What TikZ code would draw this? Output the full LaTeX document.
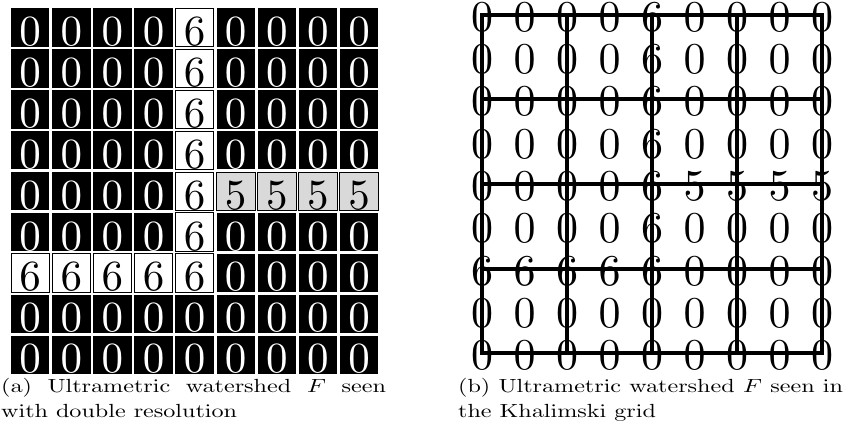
\documentclass[tikz,border=0pt]{standalone}
\usepackage[OT1]{fontenc}
\usepackage{graphicx}
\DeclareFontFamily{OT1}{cmten}{}
\DeclareFontShape{OT1}{cmten}{m}{n}{<-> cmr10}{}
\renewcommand{\rmdefault}{cmten}
\DeclareFontShape{OML}{cmm}{m}{it}{<-> cmmi10}{}

\newcommand{\subcap}[1]{\scalebox{1.27}[1]{\parbox[t]{303pt}{#1}}}

\begin{document}
\begin{tikzpicture}
  [ x=1pt, y=-1pt,
    sq0/.style={rectangle, fill=black, text=white, minimum size=38.4pt, inner sep=0pt,
      text height=36pt, text depth=0pt, font=\fontsize{43}{43}\selectfont},
    sq5/.style={sq0, fill=gray!30, draw=black, line width=0.8pt, text=black},
    sq6/.style={sq0, fill=white, draw=black, line width=0.8pt, text=black},
    num/.style={inner sep=0pt, text height=33pt, text depth=0pt, font=\fontsize{44}{44}\selectfont},
    line1/.style={-, line width=4pt, line cap=rect, black},
    caption/.style={anchor=north west, inner sep=0pt, font=\fontsize{19}{25}\selectfont}
  ]
  \useasboundingbox (0,0) rectangle (845,431);

  % left: cells, right: values on the Khalimski grid
  \foreach \row [count=\r from 0] in {{0,0,0,0,6,0,0,0,0},{0,0,0,0,6,0,0,0,0},
      {0,0,0,0,6,0,0,0,0},{0,0,0,0,6,0,0,0,0},{0,0,0,0,6,5,5,5,5},
      {0,0,0,0,6,0,0,0,0},{6,6,6,6,6,0,0,0,0},{0,0,0,0,0,0,0,0,0},
      {0,0,0,0,0,0,0,0,0}} {
    \foreach \v [count=\c from 0] in \row {
      \node[sq\v] (a\r\c) at (30.2+41.1*\c, 27.5+40.9*\r) {\v};
      \node[num] (b\r\c) at (482+42.5*\c, 14.7+42.33*\r) {\v};
    }
  }

  \foreach \n in {0,2,4,6,8} {
    \draw [line1] (b\n0.center) -- (b\n8.center);
    \draw [line1] (b0\n.center) -- (b8\n.center);
  }

  \node[caption] (capa) at (1,377.7) {\subcap{(a) Ultrametric watershed $F$ seen\linebreak with double resolution}};
  \node[caption] (capb) at (458,377.7) {\subcap{(b) Ultrametric watershed $F$ seen in\linebreak the Khalimski grid}};
\end{tikzpicture}
\end{document}
